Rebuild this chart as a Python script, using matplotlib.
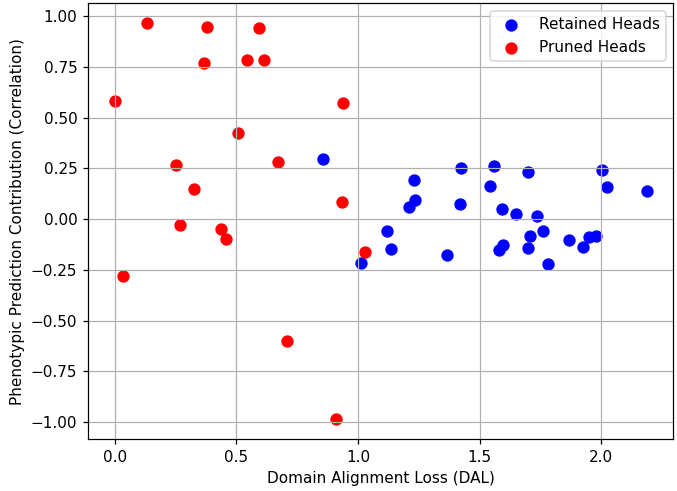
import matplotlib
matplotlib.use("Agg")
import matplotlib.pyplot as plt

# retained heads (DAL, correlation)
retained_dal = [0.856, 1.011, 1.424, 1.560, 1.701, 2.004, 1.231, 1.541, 2.023, 2.187,
                1.236, 1.210, 1.420, 1.594, 1.648, 1.737, 1.119, 1.761, 1.708, 1.701,
                1.866, 1.949, 1.980, 1.925, 1.137, 1.596, 1.582, 1.365, 1.780]
retained_corr = [0.298, -0.218, 0.251, 0.263, 0.234, 0.241, 0.193, 0.165, 0.159, 0.136,
                 0.096, 0.059, 0.074, 0.052, 0.026, 0.013, -0.061, -0.061, -0.082, -0.143,
                 -0.102, -0.090, -0.085, -0.138, -0.148, -0.130, -0.151, -0.179, -0.220]

# pruned heads
pruned_dal = [0.000, 0.135, 0.378, 0.368, 0.592, 0.546, 0.613, 0.938, 0.506, 0.252,
              0.670, 0.326, 0.933, 0.267, 0.437, 0.456, 0.033, 1.029, 0.709, 0.909]
pruned_corr = [0.581, 0.965, 0.947, 0.768, 0.942, 0.784, 0.784, 0.570, 0.424, 0.268,
               0.280, 0.150, 0.083, -0.028, -0.048, -0.097, -0.282, -0.161, -0.601, -0.986]

fig, ax = plt.subplots(figsize=(677 / 110, 491 / 110), dpi=110)
ax.scatter(retained_dal, retained_corr, c='blue', s=50, label='Retained Heads')
ax.scatter(pruned_dal, pruned_corr, c='red', s=50, label='Pruned Heads')
ax.set_xlabel('Domain Alignment Loss (DAL)')
ax.set_ylabel('Phenotypic Prediction Contribution (Correlation)')
ax.grid(True)
ax.legend(loc='upper right')
fig.subplots_adjust(left=0.130, right=0.9945, top=0.993, bottom=0.106)
fig.savefig('out.png')
